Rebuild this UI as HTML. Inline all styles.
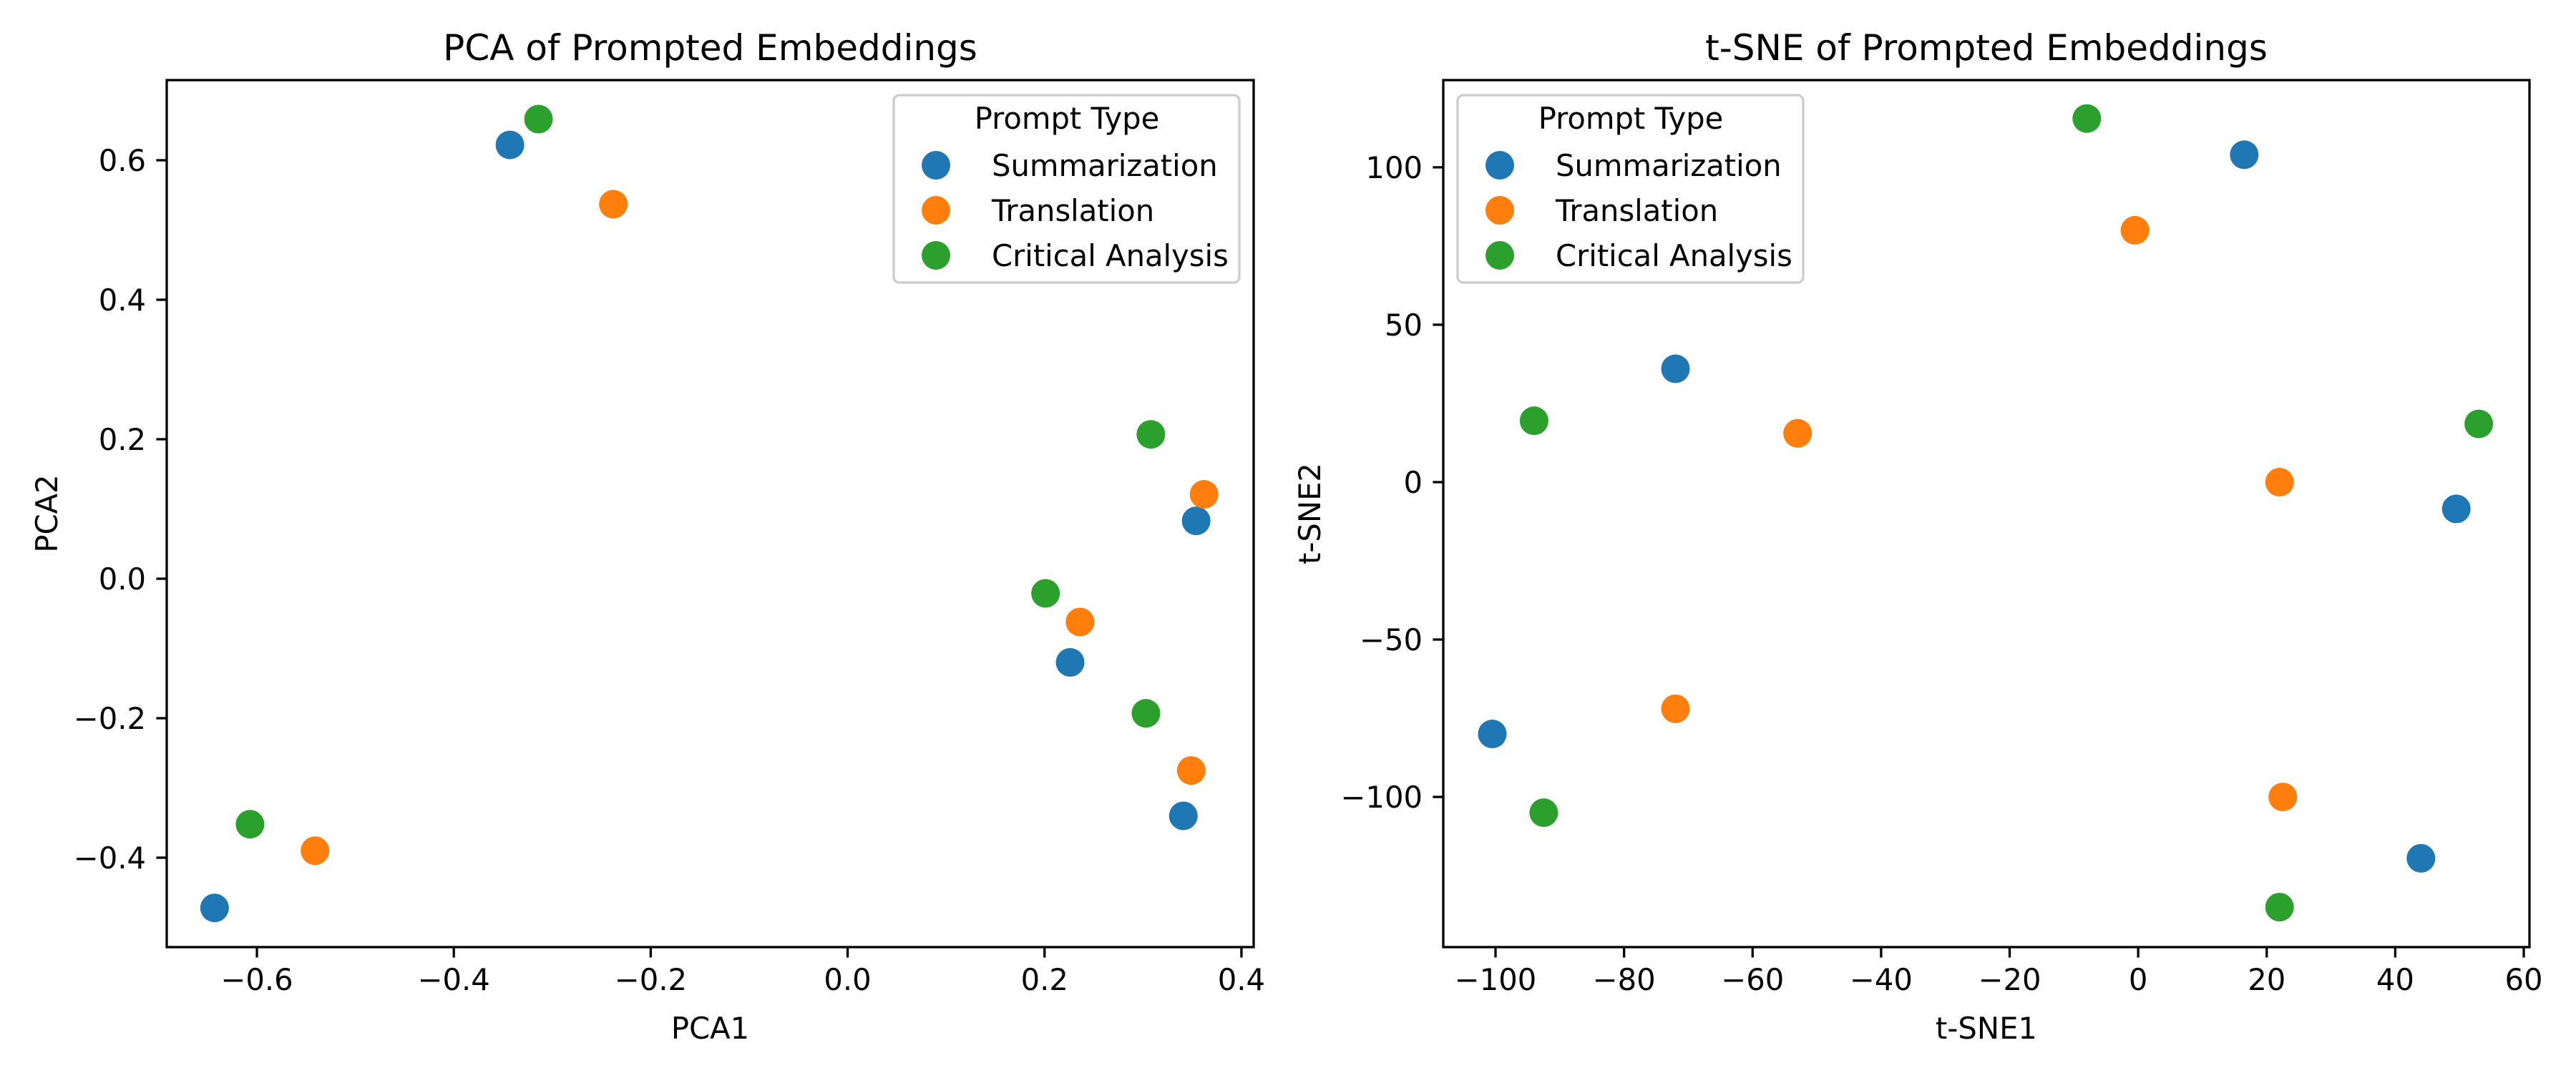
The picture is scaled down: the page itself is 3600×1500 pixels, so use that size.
<!DOCTYPE html>
<html><head><meta charset="utf-8"><style>
body{margin:0;background:#fff}
svg{display:block;font-family:"DejaVu Sans","Liberation Sans",sans-serif}
</style></head><body>
<svg id="fig" width="3600" height="1500" viewBox="0 0 3600 1500"></svg>
<script>
const categories = ["Summarization","Translation","Critical Analysis"];
const colors = ["#1f77b4","#ff7f0e","#2ca02c"];
const pcaX = [[-0.643,-0.343,0.226,0.354,0.341],[-0.541,-0.238,0.236,0.362,0.349],[-0.607,-0.314,0.201,0.308,0.303]];
const pcaY = [[-0.472,0.622,-0.120,0.083,-0.340],[-0.390,0.537,-0.062,0.121,-0.275],[-0.352,0.659,-0.021,0.207,-0.193]];
const tsneX = [[-100.5,-72,16.5,49.5,44],[-72,-53,-0.5,22,22.5],[-94,-92.5,-8,53,22]];
const tsneY = [[-80,36,104,-8.5,-119.5],[-72,15.5,80,0,-100],[19.5,-105,115.5,18.5,-135]];
const pcaXTicks = [-0.6,-0.4,-0.2,0.0,0.2,0.4];
const pcaXTickLabels = ["\u22120.6","\u22120.4","\u22120.2","0.0","0.2","0.4"];
const pcaYTicks = [-0.4,-0.2,0.0,0.2,0.4,0.6];
const pcaYTickLabels = ["\u22120.4","\u22120.2","0.0","0.2","0.4","0.6"];
const tsneXTicks = [-100,-80,-60,-40,-20,0,20,40,60];
const tsneXTickLabels = ["\u2212100","\u221280","\u221260","\u221240","\u221220","0","20","40","60"];
const tsneYTicks = [-100,-50,0,50,100];
const tsneYTickLabels = ["\u2212100","\u221250","0","50","100"];

const NS="http://www.w3.org/2000/svg";
const svg=document.getElementById('fig');
function mk(tag,attrs,parent,text){const e=document.createElementNS(NS,tag);for(const k in attrs)e.setAttribute(k,attrs[k]);if(text!==undefined)e.textContent=text;(parent||svg).appendChild(e);return e;}

function panel(o){
  const g=mk('g',{});
  
  
  const sx=v=>o.L+(v-o.xmin)/(o.xmax-o.xmin)*(o.R-o.L);
  const sy=v=>o.B-(v-o.ymin)/(o.ymax-o.ymin)*(o.B-o.T);
  for(let c=0;c<categories.length;c++){
    for(let i=0;i<o.xs[c].length;i++){
      const p=mk('circle',{cx:sx(o.xs[c][i]),cy:sy(o.ys[c][i]),r:20,fill:colors[c]},g);
      
      
    }
  }
  const frame=mk('rect',{x:o.L,y:o.T,width:o.R-o.L,height:o.B-o.T,fill:'none',stroke:'#000','stroke-width':3.3},g);
  
  
  o.xt.forEach((v,i)=>{
    const x=sx(v);
    mk('line',{x1:x,x2:x,y1:o.B,y2:o.B+14.6,stroke:'#000','stroke-width':3.3},g);
    const t=mk('text',{x:x,y:o.B+60,'font-size':41.7,'text-anchor':'middle'},g,o.xtl[i]);
    
    
  });
  o.yt.forEach((v,i)=>{
    const y=sy(v);
    mk('line',{x1:o.L-14.6,x2:o.L,y1:y,y2:y,stroke:'#000','stroke-width':3.3},g);
    const t=mk('text',{x:o.L-29,y:y+15,'font-size':41.7,'text-anchor':'end'},g,o.ytl[i]);
    
    
  });
  const ti=mk('text',{x:(o.L+o.R)/2,y:o.T-28,'font-size':50,'text-anchor':'middle'},g,o.title);
  
  
  const xl=mk('text',{x:(o.L+o.R)/2,y:1452,'font-size':41.7,'text-anchor':'middle'},g,o.xlabel);
  
  
  const yx=o.yLabelX, yy=(o.T+o.B)/2;
  const yl=mk('text',{x:yx,y:yy,'font-size':41.7,'text-anchor':'middle',transform:`rotate(-90 ${yx} ${yy})`},g,o.ylabel);
  
  
  const lg=mk('g',{},g);
  
  
  mk('rect',{x:o.lgX,y:133,width:483,height:262,rx:8,fill:'#fff','fill-opacity':0.8,stroke:'#ccc','stroke-width':3.3},lg);
  const lt=mk('text',{x:o.lgX+242,y:180,'font-size':41.7,'text-anchor':'middle'},lg,'Prompt Type');
  
  
  categories.forEach((c,i)=>{
    const e=mk('g',{},lg);
    
    
    const y=231+i*63;
    mk('circle',{cx:o.lgX+59,cy:y,r:20,fill:colors[i]},e);
    mk('text',{x:o.lgX+137,y:y+15,'font-size':41.7},e,c);
  });
}
panel({name:'pca-panel',L:233,R:1752,T:112,B:1324,xmin:-0.6916,xmax:0.4124,ymin:-0.5282,ymax:0.7149,
  xs:pcaX,ys:pcaY,xt:pcaXTicks,xtl:pcaXTickLabels,yt:pcaYTicks,ytl:pcaYTickLabels,
  title:'PCA of Prompted Embeddings',xlabel:'PCA1',ylabel:'PCA2',yLabelX:80,lgX:1249});
panel({name:'tsne-panel',L:2017,R:3535,T:112,B:1324,xmin:-108.13,xmax:60.89,ymin:-147.7,ymax:127.7,
  xs:tsneX,ys:tsneY,xt:tsneXTicks,xtl:tsneXTickLabels,yt:tsneYTicks,ytl:tsneYTickLabels,
  title:'t-SNE of Prompted Embeddings',xlabel:'t-SNE1',ylabel:'t-SNE2',yLabelX:1845,lgX:2037});
</script>
</body></html>
